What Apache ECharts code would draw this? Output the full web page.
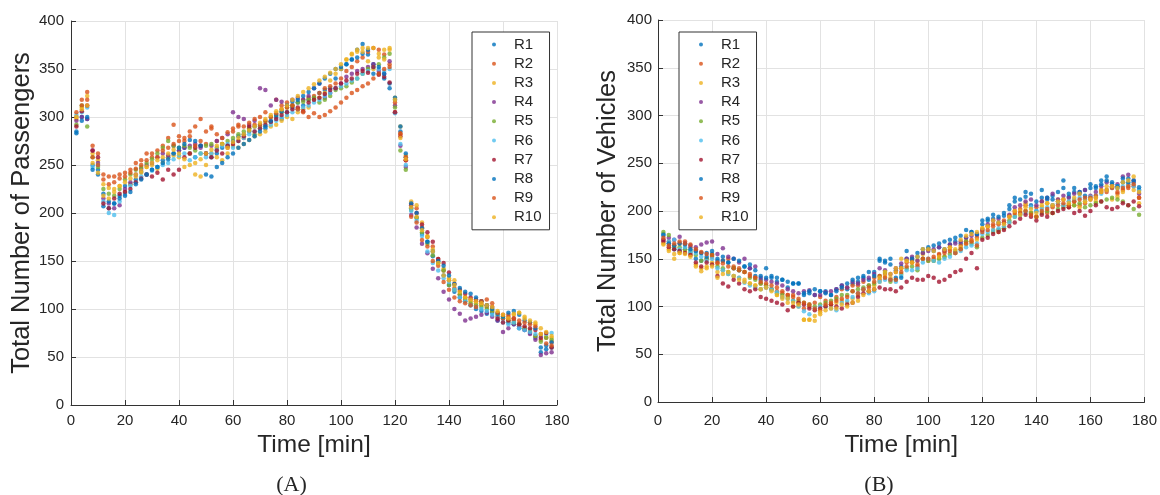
<!DOCTYPE html>
<html><head><meta charset="utf-8">
<script src="https://cdn.jsdelivr.net/npm/echarts@6/dist/echarts.min.js"></script>
<style>html,body{margin:0;padding:0;background:#fff}#c{width:1160px;height:495px}</style>
</head><body><div id="c"></div>
<script>
const times = [2,4,6,8,10,12,14,16,18,20,22,24,26,28,30,32,34,36,38,40,
42,44,46,48,50,52,54,56,58,60,62,64,66,68,70,72,74,76,78,80,
82,84,86,88,90,92,94,96,98,100,102,104,106,108,110,112,114,116,118,120,
122,124,126,128,130,132,134,136,138,140,142,144,146,148,150,152,154,156,158,160,
162,164,166,168,170,172,174,176,178];
const xTicks = [0,20,40,60,80,100,120,140,160,180];
const yTicks = [0,50,100,150,200,250,300,350,400];
const names = ['R1','R2','R3','R4','R5','R6','R7','R8','R9','R10'];
const colors = ['#0072BD','#D95319','#EDB120','#7E2F8E','#77AC30','#4DBEEE','#A2142F','#0072BD','#D95319','#EDB120'];

// Panel A: Total Number of Passengers
const passR1 = [283,300,298,250,245,207,205,210,218,228, 230,235,243,240,245,248,255,258,262,265,
268,262,258,270,262,258,262,268,270,275, 280,282,285,290,292,288,295,300,298,305,
310,315,312,318,320,325,328,330,340,350, 355,360,370,376,365,355,345,340,335,318,
285,258,205,195,178,170,155,150,135,125, 118,112,108,104,100,98,95,96,88,90,
86,84,80,78,75,70,55,58,60];
const passR2 = [300,318,326,270,262,240,238,238,240,242, 245,252,255,262,258,265,270,278,292,280,
275,285,290,298,272,288,275,272,268,285, 290,278,288,292,300,305,295,318,312,315,
312,308,318,320,322,325,330,332,335,340, 348,352,358,362,368,372,370,365,355,305,
283,255,210,205,185,175,165,152,140,130, 122,115,112,110,108,105,102,98,92,90,
94,88,85,80,76,72,68,70,66];
const passR3 = [298,310,322,262,255,230,226,225,228,222, 230,238,242,248,250,246,252,258,260,258,
248,262,240,238,250,262,258,255,262,270, 268,272,276,280,282,285,290,292,296,300,
298,305,308,310,318,320,325,338,345,350, 360,365,368,372,358,350,362,370,372,320,
290,260,212,208,190,176,162,148,142,132, 130,118,112,108,106,104,102,100,96,92,
90,94,96,92,86,84,80,72,70];
const passR4 = [296,300,298,265,252,215,210,205,208,225, 232,240,246,250,252,258,262,260,270,265,
268,270,272,268,262,270,275,278,282,305, 300,298,292,296,330,328,312,318,316,312,
318,320,318,322,330,335,320,325,330,335, 342,345,348,350,352,355,348,345,358,312,
270,248,198,185,168,158,142,132,118,110, 100,95,88,90,92,94,96,92,88,76,
80,84,82,78,74,68,52,54,55];
const passR5 = [292,312,290,258,248,225,220,218,225,235, 240,245,248,252,256,262,268,275,270,268,
270,268,265,262,270,272,268,272,275,278, 282,285,288,282,290,295,300,302,305,310,
312,315,316,318,320,315,318,322,328,330, 332,336,340,345,350,352,355,362,366,310,
265,245,203,195,180,168,156,148,140,125, 120,115,110,106,104,102,100,98,94,92,
88,86,84,80,78,72,66,70,68];
const passR6 = [302,305,310,248,250,212,200,198,212,220, 228,232,238,240,244,248,250,252,256,260,
262,255,258,262,258,262,266,270,272,268, 275,278,282,285,288,290,292,296,300,302,
305,308,310,312,315,318,322,325,330,332, 335,338,340,345,348,352,350,348,350,304,
272,250,202,192,176,160,148,140,132,128, 120,112,108,104,102,100,98,94,92,86,
84,86,80,78,76,74,72,74,75];
const passR7 = [290,306,312,265,258,210,205,215,220,222, 225,232,236,240,238,242,235,245,240,245,
258,262,268,270,262,258,265,262,270,272, 275,280,290,285,288,292,295,298,302,305,
308,310,306,315,318,320,324,328,330,335, 338,340,345,348,346,352,344,342,336,305,
280,255,208,200,188,180,170,152,148,138, 126,120,116,112,110,108,104,102,90,86,
88,90,84,82,80,78,70,75,60];
const passR8 = [285,296,300,245,240,220,212,210,215,218, 222,230,235,240,245,248,252,256,262,268,
272,276,275,270,240,238,248,252,258,262, 268,272,276,280,285,290,296,302,306,312,
316,318,322,326,330,335,340,345,350,352, 355,360,362,366,370,345,352,345,330,320,
290,262,210,200,184,170,160,150,145,135, 126,122,118,116,112,108,104,100,95,92,
96,98,94,88,86,80,60,62,65];
const passR9 = [305,312,318,258,250,235,230,232,236,238, 242,246,250,255,262,258,265,268,272,275,
278,280,270,275,285,290,282,278,284,288, 292,290,294,298,292,296,300,304,308,310,
312,308,305,300,304,300,302,306,310,315, 320,325,328,332,335,340,345,350,352,315,
282,258,196,190,172,165,150,145,128,120, 112,108,106,104,102,108,110,106,96,94,
92,90,88,86,84,82,74,64,62];
const passR10 = [300,308,312,252,242,218,215,222,228,232, 236,240,244,248,252,255,258,262,266,262,
256,250,252,256,262,266,270,272,268,274, 278,282,286,290,294,298,302,306,308,312,
318,322,326,330,334,338,342,346,350,355, 360,366,370,368,372,372,366,360,370,318,
278,256,206,196,182,175,160,148,135,130, 125,118,112,110,108,106,104,102,98,94,
90,95,96,90,88,86,74,76,72];

// Panel B: Total Number of Vehicles
const vehR1 = [176,166,160,158,160,156,150,148,156,155, 148,152,146,140,138,142,140,132,128,140,
130,126,128,120,124,124,112,114,112,116, 116,112,118,122,118,124,126,130,128,136,
150,148,150,138,142,150,148,152,156,160, 158,162,160,165,168,166,172,178,175,186,
190,192,188,195,202,210,198,215,206,200, 214,212,216,210,224,215,220,218,222,228,
224,232,236,228,224,230,234,230,222];
const vehR2 = [170,168,164,166,168,162,158,156,150,152, 145,148,150,142,140,136,134,130,124,120,
118,116,114,112,112,104,98,100,104,110, 106,102,110,118,120,122,122,126,122,130,
128,134,128,136,140,146,150,142,150,148, 150,155,158,162,156,164,168,170,172,180,
184,186,180,190,195,200,202,206,198,204, 210,198,206,210,212,204,210,206,208,212,
214,222,220,226,218,222,224,226,214];
const vehR3 = [166,160,150,156,158,154,144,140,142,146, 136,138,134,132,130,128,124,122,118,122,
118,112,108,104,100,100,86,86,85,92, 100,102,104,106,104,108,112,118,116,122,
126,132,130,136,140,148,146,148,155,160, 148,150,152,160,156,162,165,168,170,182,
184,180,178,182,188,196,200,208,198,194, 204,208,198,212,206,210,206,204,210,214,
210,222,226,212,215,220,228,222,208];
const vehR4 = [170,172,170,173,166,164,162,165,167,168, 155,161,152,150,146,150,140,142,130,128,
126,124,122,118,116,114,116,117,112,112, 115,116,118,122,120,126,124,128,130,134,
140,138,134,140,145,150,152,148,156,158, 160,162,158,165,166,168,172,174,176,180,
186,190,192,188,196,204,206,210,212,206, 210,214,218,212,216,214,218,220,222,216,
220,226,230,225,228,236,238,232,218];
const vehR5 = [178,175,162,162,160,158,154,148,150,154, 142,140,136,140,138,136,130,128,124,122,
118,114,112,110,106,106,104,102,100,102, 104,106,108,112,112,116,118,120,122,124,
132,136,126,128,134,140,142,138,150,148, 148,150,152,155,158,160,168,166,162,172,
175,178,180,182,190,194,196,200,198,194, 198,200,198,202,204,206,206,208,204,206,
208,210,212,214,212,210,206,202,196];
const vehR6 = [174,168,170,160,162,158,156,152,148,150, 140,138,134,132,130,125,122,120,118,120,
118,115,110,108,106,100,95,92,98,100, 100,98,96,104,106,110,114,118,114,116,
126,128,128,126,132,138,138,140,146,150, 148,146,150,152,156,158,162,164,166,176,
178,180,182,184,188,194,196,198,204,200, 202,204,206,208,206,210,212,214,212,215,
216,218,222,224,226,226,228,226,222];
const vehR7 = [168,162,160,158,156,154,146,142,146,144, 132,124,121,128,124,118,116,118,110,108,
106,104,102,96,100,104,102,98,96,98, 100,102,100,98,102,104,110,114,116,118,
120,118,118,116,120,126,130,128,128,132, 130,126,128,132,136,138,150,156,140,170,
172,176,178,180,184,188,192,196,194,190, 196,194,198,200,202,204,198,200,195,200,
206,210,204,202,204,208,206,210,205];
const vehR8 = [175,166,164,166,165,160,158,156,152,158, 150,148,146,150,148,142,144,138,132,130,
132,130,128,126,124,124,114,116,118,116, 114,112,116,120,124,128,130,132,136,132,
148,146,144,130,130,158,150,156,160,162, 164,166,168,170,172,174,180,178,176,190,
192,196,194,198,206,214,212,220,218,210, 222,214,212,220,232,218,224,220,216,224,
226,228,232,230,226,234,230,232,225];
const vehR9 = [172,164,166,168,166,165,160,157,155,154, 146,145,142,140,138,136,132,130,126,124,
122,120,116,112,110,108,104,102,98,96, 102,104,106,108,110,116,114,118,120,126,
132,130,128,128,136,142,146,144,150,150, 152,154,156,158,156,160,166,168,164,178,
180,184,186,188,194,198,198,200,196,194, 200,202,204,206,208,206,210,212,214,214,
216,220,222,224,220,224,226,228,214];
const vehR10 = [165,158,155,156,155,152,142,137,140,142, 130,134,136,132,128,126,124,122,118,120,
116,112,110,108,104,102,86,86,90,94, 96,98,98,102,100,104,106,112,116,118,
130,136,134,140,150,148,146,152,160,160, 158,152,160,162,160,170,174,176,178,182,
184,190,188,186,194,200,196,204,202,198, 206,208,206,210,212,208,214,218,210,212,
214,220,222,226,224,230,232,236,220];

const passSets = [passR1,passR2,passR3,passR4,passR5,passR6,passR7,passR8,passR9,passR10];
const vehSets = [vehR1,vehR2,vehR3,vehR4,vehR5,vehR6,vehR7,vehR8,vehR9,vehR10];

const txt = '#262626';
const font = 'Liberation Sans, Arial, Helvetica, sans-serif';
function xAxis(gi, gap, lm){
  return {type:'value', gridIndex:gi, min:xTicks[0], max:xTicks[xTicks.length-1], interval:20,
    name:'Time [min]', nameLocation:'middle', nameGap:gap,
    nameTextStyle:{fontSize:24.5, color:txt, fontFamily:font},
    axisLine:{show:true, onZero:false, lineStyle:{color:'#333', width:1}},
    axisTick:{show:true, inside:true, length:5, lineStyle:{color:'#333'}},
    axisLabel:{fontSize:15, color:txt, fontFamily:font, margin:lm},
    splitLine:{show:true, lineStyle:{color:'#e2e2e2', width:1}}};
}
function yAxis(gi, name, gap, lm){
  return {type:'value', gridIndex:gi, min:yTicks[0], max:yTicks[yTicks.length-1], interval:50,
    name:name, nameLocation:'middle', nameGap:gap,
    nameTextStyle:{fontSize:25.5, color:txt, fontFamily:font},
    axisLine:{show:true, onZero:false, lineStyle:{color:'#333', width:1}},
    axisTick:{show:true, inside:true, length:5, lineStyle:{color:'#333'}},
    axisLabel:{fontSize:15, color:txt, fontFamily:font, margin:lm},
    splitLine:{show:true, lineStyle:{color:'#e2e2e2', width:1}}};
}
const series = [];
passSets.forEach((arr,i)=>{
  series.push({type:'scatter', name:names[i], xAxisIndex:0, yAxisIndex:0, symbolSize:4.5,
    itemStyle:{color:colors[i]}, data: times.map((t,k)=>[t, arr[k]]), animation:false});
});
vehSets.forEach((arr,i)=>{
  series.push({type:'scatter', name:names[i], xAxisIndex:1, yAxisIndex:1, symbolSize:4.5,
    itemStyle:{color:colors[i]}, data: times.map((t,k)=>[t, arr[k]]), animation:false});
});
function legend(left){
  return {orient:'vertical', left:left, top:32, data:names, icon:'circle',
    itemWidth:4, itemHeight:4, itemGap:0.2, padding:[3,8,3,20],
    backgroundColor:'#fff', borderColor:'#333', borderWidth:1, selectedMode:false,
    textStyle:{fontSize:15, color:txt, fontFamily:font, lineHeight:19, padding:[0,0,0,13]}};
}
const chart = echarts.init(document.getElementById('c'), null, {renderer:'canvas'});
chart.setOption({
  animation:false,
  color:colors,
  grid:[{left:71, top:21, width:486, height:384},{left:658, top:20, width:487, height:382}],
  xAxis:[xAxis(0,25,8), xAxis(1,29,11)],
  yAxis:[yAxis(0,'Total Number of Passengers',35,7), yAxis(1,'Total Number of Vehicles',37,6)],
  legend:[legend(472), legend(679)],
  series:series,
  graphic:[
    {type:'text', x:291.5, y:485, style:{text:'(A)', fontSize:22, fill:txt, align:'center', verticalAlign:'middle', fontFamily:'Liberation Serif, Times New Roman, serif'}},
    {type:'text', x:879, y:485, style:{text:'(B)', fontSize:22, fill:txt, align:'center', verticalAlign:'middle', fontFamily:'Liberation Serif, Times New Roman, serif'}}
  ]
});
</script></body></html>
